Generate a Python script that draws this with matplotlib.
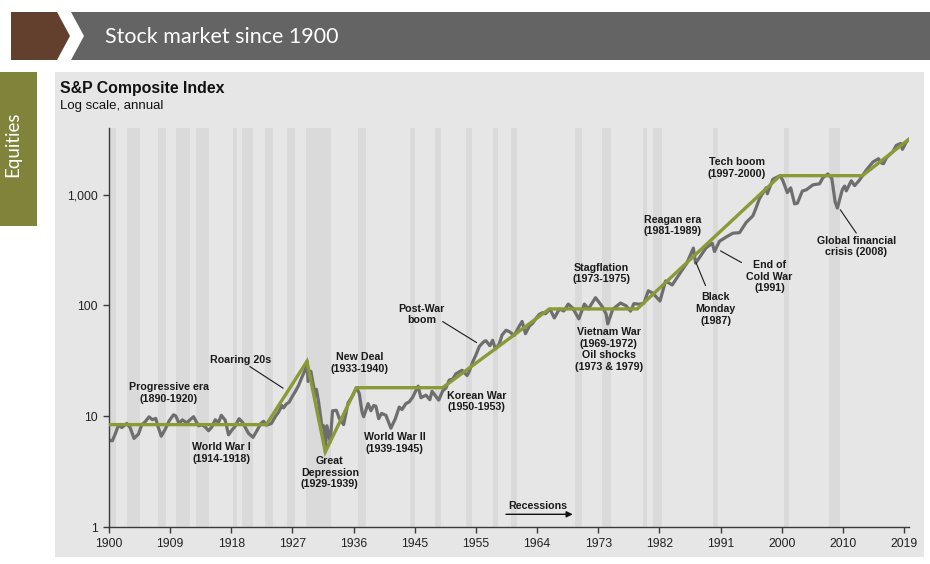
import numpy as np
import matplotlib.pyplot as plt
from matplotlib.patches import Polygon, Rectangle
from matplotlib.ticker import NullLocator, FixedLocator, FixedFormatter

plt.rcParams["font.family"] = ["Liberation Sans", "DejaVu Sans"]

# S&P Composite index level (month, level)
index_dates = [
    "1900-01", "1900-07", "1901-01", "1901-06", "1901-12", "1902-09", "1903-03", "1903-10",
    "1904-06", "1904-12", "1905-06", "1906-01", "1906-07", "1907-01", "1907-04", "1907-11",
    "1908-06", "1909-01", "1909-09", "1910-01", "1910-07", "1911-01", "1911-09", "1912-01",
    "1912-09", "1913-06", "1914-01", "1914-07", "1914-12", "1915-06", "1915-12", "1916-06",
    "1916-11", "1917-06", "1917-12", "1918-06", "1918-11", "1919-07", "1920-01", "1920-12",
    "1921-08", "1922-03", "1922-10", "1923-03", "1923-08", "1924-05", "1924-12", "1925-06",
    "1925-12", "1926-03", "1926-08", "1927-01", "1927-07", "1927-12", "1928-06", "1928-12",
    "1929-05", "1929-09", "1929-11", "1930-04", "1930-07", "1930-12", "1931-02", "1931-06",
    "1931-12", "1932-03", "1932-06", "1932-09", "1933-03", "1933-07", "1934-02", "1934-07",
    "1935-03", "1935-11", "1936-06", "1937-02", "1937-07", "1937-12", "1938-03", "1938-11",
    "1939-04", "1939-09", "1940-01", "1940-06", "1940-11", "1941-07", "1942-04", "1942-12",
    "1943-07", "1943-12", "1944-07", "1945-01", "1945-07", "1946-05", "1946-10", "1947-07",
    "1948-02", "1948-06", "1949-06", "1950-01", "1950-07", "1951-01", "1951-07", "1952-01",
    "1952-12", "1953-09", "1954-01", "1954-07", "1954-12", "1955-07", "1955-12", "1956-04",
    "1956-07", "1957-02", "1957-07", "1957-12", "1958-07", "1958-12", "1959-07", "1960-01",
    "1960-10", "1961-07", "1961-12", "1962-06", "1963-01", "1963-07", "1964-01", "1964-07",
    "1965-01", "1965-06", "1966-02", "1966-10", "1967-07", "1968-03", "1968-11", "1969-07",
    "1970-06", "1971-04", "1971-11", "1972-12", "1973-07", "1974-01", "1974-07", "1974-10",
    "1975-07", "1976-09", "1977-07", "1978-03", "1978-09", "1979-07", "1980-03", "1980-11",
    "1981-07", "1982-08", "1983-06", "1984-06", "1985-07", "1986-08", "1987-08", "1987-12",
    "1988-07", "1989-07", "1990-06", "1990-10", "1991-07", "1992-07", "1993-07", "1994-07",
    "1995-07", "1996-07", "1997-01", "1997-07", "1998-07", "1998-09", "1999-07", "2000-08",
    "2001-01", "2001-09", "2002-03", "2002-10", "2003-03", "2003-12", "2004-07", "2005-07",
    "2006-07", "2007-01", "2007-10", "2008-05", "2008-11", "2009-03", "2009-12", "2010-04",
    "2010-07", "2011-04", "2011-10", "2012-07", "2013-07", "2014-07", "2015-05", "2015-09",
    "2016-02", "2016-07", "2017-07", "2018-01", "2018-09", "2018-12", "2019-07", "2019-12",
]
index_values = [
    6.10, 6.00, 7.07, 8.30, 7.90, 8.60, 7.90, 6.30,
    6.90, 8.40, 8.90, 9.87, 9.30, 9.56, 8.40, 6.60,
    7.60, 9.06, 10.30, 10.08, 8.60, 9.27, 8.70, 9.12,
    9.90, 8.20, 8.37, 7.90, 7.40, 8.00, 9.30, 8.80,
    10.20, 9.20, 6.80, 7.50, 8.00, 9.50, 8.83, 7.00,
    6.45, 7.40, 8.60, 9.00, 8.30, 8.60, 9.90, 10.90,
    12.50, 11.90, 12.90, 13.40, 15.20, 16.70, 19.00, 22.50,
    25.60, 31.30, 20.60, 25.50, 21.00, 15.30, 17.50, 13.40,
    8.10, 8.20, 4.77, 8.20, 5.85, 11.20, 11.30, 9.60,
    8.40, 13.20, 15.00, 18.10, 16.10, 11.00, 9.90, 13.00,
    11.20, 12.50, 12.30, 9.50, 10.60, 10.20, 7.80, 9.50,
    12.10, 11.50, 13.00, 13.49, 14.80, 18.70, 14.70, 15.50,
    14.10, 16.80, 13.97, 16.88, 18.00, 21.21, 21.60, 24.19,
    26.00, 23.30, 25.46, 30.90, 34.90, 42.60, 45.40, 47.50,
    48.00, 43.30, 48.50, 40.30, 45.10, 54.20, 59.70, 58.00,
    53.70, 65.40, 71.70, 55.60, 65.10, 69.10, 76.50, 83.20,
    86.10, 84.10, 92.70, 77.10, 93.00, 89.10, 103.0, 94.70,
    75.60, 103.0, 92.80, 117.5, 105.8, 96.10, 83.80, 68.10,
    92.50, 105.2, 99.30, 88.80, 103.9, 102.7, 104.7, 135.7,
    129.1, 109.7, 166.4, 153.1, 192.5, 240.2, 329.4, 241.0,
    271.0, 331.9, 364.0, 307.1, 380.0, 415.0, 449.0, 454.0,
    562.0, 644.0, 766.2, 925.0, 1156.0, 1020.0, 1380.0, 1485.0,
    1335.6, 1044.0, 1153.0, 827.0, 837.0, 1080.0, 1106.0, 1227.0,
    1254.0, 1424.2, 1539.0, 1400.0, 857.0, 757.0, 1116.0, 1197.0,
    1083.0, 1335.0, 1207.0, 1360.0, 1669.0, 1973.0, 2111.0, 1944.0,
    1904.0, 2148.0, 2454.0, 2789.0, 2901.0, 2567.0, 2996.0, 3176.0,
]

# green trend segments
trend_dates = ["1900-01", "1923-08", "1929-09", "1932-06", "1937-02", "1950-01",
               "1966-01", "1979-03", "2000-08", "2012-12", "2019-12"]
trend_values = [8.4, 8.4, 31.3, 4.77, 18.1, 18.1, 93, 93, 1485, 1485, 3176]

# NBER recessions
recession_start = ["1899-06", "1902-09", "1907-05", "1910-01", "1913-01", "1918-08",
                   "1920-01", "1923-05", "1926-10", "1929-08", "1937-05", "1945-02",
                   "1948-11", "1953-07", "1957-08", "1960-04", "1969-12", "1973-11",
                   "1980-01", "1981-07", "1990-07", "2001-03", "2007-12"]
recession_end = ["1900-12", "1904-08", "1908-06", "1912-01", "1914-12", "1919-03",
                 "1921-07", "1924-07", "1927-11", "1933-03", "1938-06", "1945-10",
                 "1949-10", "1954-05", "1958-04", "1961-02", "1970-11", "1975-03",
                 "1980-07", "1982-11", "1991-03", "2001-11", "2009-06"]

x_tick_labels = ["1900", "1909", "1918", "1927", "1936", "1945", "1955",
                 "1964", "1973", "1982", "1991", "2000", "2010", "2019"]
y_ticks = [1, 10, 100, 1000]
y_tick_labels = ["1", "10", "100", "1,000"]


def to_year(d):
    y, m = d.split("-")
    return int(y) + (int(m) - 1) / 12


W, H = 930, 564
dpi = 100
fig = plt.figure(figsize=(W / dpi, H / dpi), dpi=dpi)

# background layer, pixel units
bg = fig.add_axes([0, 0, 1, 1])
bg.set_xlim(0, W)
bg.set_ylim(H, 0)
bg.axis("off")
bg.add_patch(Polygon([(11, 12), (57, 12), (70, 36), (57, 60), (11, 60)], closed=True,
                     facecolor="#633f2e", lw=0))
bg.add_patch(Polygon([(71, 12), (930, 12), (930, 60), (71, 60), (84, 36)], closed=True,
                     facecolor="#646464", lw=0))
bg.text(105, 37, "Stock market since 1900", color="white", fontsize=15.5,
        family=["Lato", "DejaVu Sans"], fontweight="normal", va="center", ha="left")
bg.add_patch(Rectangle((0, 72), 37, 154, facecolor="#80843a", lw=0))
bg.text(13, 144, "Equities", color="white", fontsize=13.5, rotation=90,
        family=["Lato", "DejaVu Sans"], fontweight="normal", va="center", ha="center")
bg.add_patch(Rectangle((55, 72), 869, 485, facecolor="#e6e6e6", lw=0))
bg.text(60, 88.5, "S&P Composite Index", fontsize=11.4, fontweight="bold",
        va="center", ha="left", color="#111111")
bg.text(60, 106, "Log scale, annual", fontsize=9.5, va="center", ha="left", color="#111111")

# main chart
ax = fig.add_axes([109 / W, 1 - 527 / H, 800 / W, 399 / H])
ax.patch.set_alpha(0)
ax.set_yscale("log")
ax.set_xlim(1900, 2019.9)
ax.set_ylim(1, 4000)

for s, e in zip(recession_start, recession_end):
    ax.axvspan(to_year(s), to_year(e) + 1 / 12, facecolor="#dadada", lw=0, zorder=0)

index_x = [to_year(d) for d in index_dates]
trend_x = [to_year(d) for d in trend_dates]
ax.plot(index_x, index_values, color="#6e6e6e", lw=2.3, solid_joinstyle="round",
        solid_capstyle="round", zorder=2)
ax.plot(trend_x, trend_values, color="#899a36", lw=2.4, solid_joinstyle="miter", zorder=3)

for sp in ["top", "right"]:
    ax.spines[sp].set_visible(False)
for sp in ["left", "bottom"]:
    ax.spines[sp].set_color("#3a3a3a")
    ax.spines[sp].set_linewidth(1)

x_ticks = [1900 + 110 * k / 12 for k in range(len(x_tick_labels))]
ax.xaxis.set_major_locator(FixedLocator(x_ticks))
ax.xaxis.set_major_formatter(FixedFormatter(x_tick_labels))
ax.yaxis.set_major_locator(FixedLocator(y_ticks))
ax.yaxis.set_major_formatter(FixedFormatter(y_tick_labels))
ax.yaxis.set_minor_locator(NullLocator())
ax.xaxis.set_minor_locator(NullLocator())
ax.tick_params(axis="both", direction="out", length=4, width=1, color="#3a3a3a",
               labelsize=8.8, labelcolor="#222222", pad=4)

# event labels
lab = dict(fontsize=7.7, fontweight="bold", ha="center", va="center",
           color="#1a1a1a", linespacing=1.2, zorder=5)
ax.text(1909.0, 16.3, "Progressive era\n(1890-1920)", **lab)
ax.text(1919.7, 32.1, "Roaring 20s", **lab)
ax.text(1937.5, 30.1, "New Deal\n(1933-1940)", **lab)
ax.text(1916.8, 4.66, "World War I\n(1914-1918)", **lab)
ax.text(1933.1, 3.09, "Great\nDepression\n(1929-1939)", **lab)
ax.text(1942.85, 5.74, "World War II\n(1939-1945)", **lab)
ax.text(1955.1, 13.55, "Korean War\n(1950-1953)", **lab)
ax.text(1946.9, 82.7, "Post-War\nboom", **lab)
ax.text(1973.8, 193.8, "Stagflation\n(1973-1975)", **lab)
ax.text(1974.9, 40.0, "Vietnam War\n(1969-1972)\nOil shocks\n(1973 & 1979)", **lab)
ax.text(1984.5, 526, "Reagan era\n(1981-1989)", **lab)
ax.text(1994.05, 1732, "Tech boom\n(1997-2000)", **lab)
ax.text(1990.9, 92.8, "Black\nMonday\n(1987)", **lab)
ax.text(1999.0, 181.3, "End of\nCold War\n(1991)", **lab)
ax.text(2012.0, 340.5, "Global financial\ncrisis (2008)", **lab)
ax.text(1964.3, 1.557, "Recessions", **lab)

leader = dict(arrowstyle="-", color="#1a1a1a", lw=0.8, shrinkA=0, shrinkB=0)
ax.annotate("", xy=(1926.1, 17.9), xytext=(1921.1, 28.1), arrowprops=leader)
ax.annotate("", xy=(1955.1, 46.2), xytext=(1950.0, 71.6), arrowprops=leader)
ax.annotate("", xy=(1987.95, 246), xytext=(1989.4, 151.3), arrowprops=leader)
ax.annotate("", xy=(1991.65, 311), xytext=(1994.8, 244), arrowprops=leader)
ax.annotate("", xy=(2009.6, 731), xytext=(2012.0, 450), arrowprops=leader)
ax.annotate("", xy=(1969.5, 1.302), xytext=(1959.5, 1.302),
            arrowprops=dict(arrowstyle="-|>", color="#111111", lw=1,
                            mutation_scale=9, shrinkA=0, shrinkB=0))

fig.savefig("out.png", dpi=dpi, facecolor="white")
